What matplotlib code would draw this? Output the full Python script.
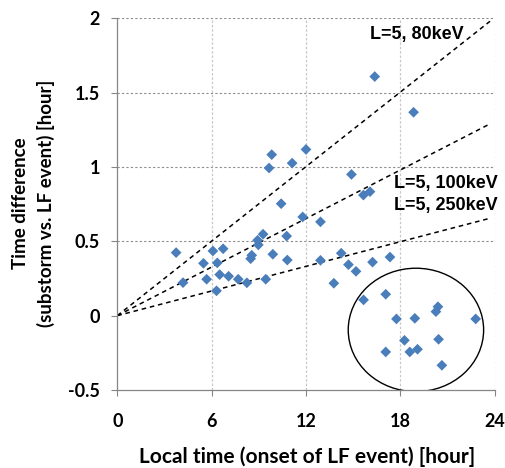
import matplotlib
matplotlib.use('Agg')
import matplotlib.pyplot as plt
from matplotlib.patches import Ellipse

# local time of LF event onset [hour] and time difference [hour]
local_time = [3.74, 4.18, 5.48, 5.68, 6.08, 6.36, 6.31, 6.51, 6.73, 7.08,
              7.69, 8.24, 8.48, 8.55, 8.92, 8.97, 9.27, 9.44, 9.65, 9.82,
              9.89, 10.42, 10.77, 10.81, 11.12, 11.79, 12.0, 12.92, 12.92, 13.77,
              14.24, 14.70, 14.89, 15.18, 15.65, 16.07, 16.23, 16.37, 17.34, 18.84,
              15.66, 17.07, 17.75, 18.92, 20.26, 20.39, 22.79, 18.26, 20.43, 17.07,
              18.60, 19.09, 20.64]
time_diff = [0.424, 0.222, 0.352, 0.245, 0.435, 0.355, 0.167, 0.276, 0.45, 0.265,
             0.245, 0.221, 0.383, 0.406, 0.507, 0.476, 0.548, 0.245, 0.993, 1.083,
             0.413, 0.753, 0.535, 0.374, 1.026, 0.664, 1.118, 0.631, 0.372, 0.218,
             0.42, 0.343, 0.950, 0.298, 0.811, 0.834, 0.36, 1.608, 0.394, 1.368,
             0.106, 0.144, -0.022, -0.018, 0.027, 0.06, -0.022, -0.166, -0.159, -0.244,
             -0.244, -0.226, -0.334]

# model lines from origin
line_x = [0, 23.7]
line_labels = ['L=5, 80keV', 'L=5, 100keV', 'L=5, 250keV']
line_end = [1.98, 1.29, 0.655]
label_pos = [(16.1, 1.888), (17.58, 0.886), (17.58, 0.741)]

xticks = [0, 6, 12, 18, 24]
yticks = [-0.5, 0, 0.5, 1, 1.5, 2]

fig = plt.figure(figsize=(5.06, 4.68), dpi=100)
ax = fig.add_axes([0.2318, 0.1667, 0.9777 - 0.2318, 0.9609 - 0.1667])

# gridlines (no line at y=0 in the original)
for yv in [0.5, 1, 1.5, 2]:
    ax.axhline(yv, color='#8c8c8c', lw=0.8, ls=(0, (2, 2)), zorder=0)
for xv in [6, 12, 18, 24]:
    ax.axvline(xv, color='#c8c8c8', lw=0.9, ls=(0, (2, 1.5)), zorder=0)

for end in line_end:
    ax.plot(line_x, [0, end], color='black', lw=1.1, ls=(0, (3, 2.5)), zorder=2)

ax.scatter(local_time, time_diff, marker='D', s=30, color='#4a7ebb', edgecolors='none', zorder=3)

circ = Ellipse((18.99, -0.096), 8.61, 0.83, fill=False, edgecolor='black', lw=1.0, zorder=2)
ax.add_patch(circ)

for txt, (tx, ty) in zip(line_labels, label_pos):
    ax.text(tx, ty, txt, ha='left', va='center', fontsize=13, fontweight='bold',
            family='Liberation Sans')

ax.set_xlim(0, 24)
ax.set_ylim(-0.5, 2)
ax.set_xticks(xticks)
ax.set_yticks(yticks)
ax.set_xticklabels([str(v) for v in xticks], fontsize=13, fontweight='bold', family='Lato')
ax.set_yticklabels(['-0.5', '0', '0.5', '1', '1.5', '2'], fontsize=13, fontweight='bold', family='Lato')
ax.tick_params(axis='both', direction='out', length=4.5, width=0.8, color='#868686')
ax.tick_params(axis='x', pad=12)
ax.tick_params(axis='y', pad=8)

for s in ['top', 'right']:
    ax.spines[s].set_visible(False)
for s in ['left', 'bottom']:
    ax.spines[s].set_color('#868686')
    ax.spines[s].set_linewidth(0.9)

fig.text(307 / 506, 1 - 457 / 468, 'Local time (onset of LF event) [hour]', ha='center', va='center',
         fontsize=15, fontweight='bold', family='Lato')
fig.text(21 / 506, 1 - 203 / 468, 'Time difference', rotation=90, ha='center', va='center',
         fontsize=13.5, fontweight='bold', family='Lato')
fig.text(46 / 506, 1 - 203 / 468, '(substorm vs. LF event) [hour]', rotation=90, ha='center', va='center',
         fontsize=13.5, fontweight='bold', family='Lato')

fig.savefig('out.png', dpi=100)
